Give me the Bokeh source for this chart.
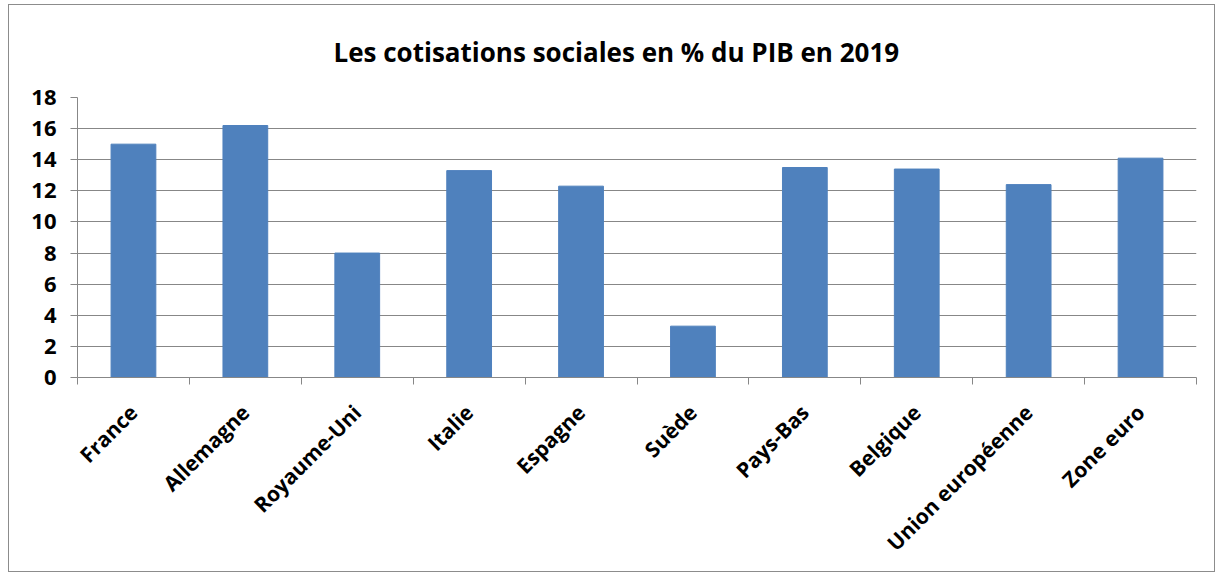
from bokeh.plotting import figure
from bokeh.models import FixedTicker, Range1d, ColumnDataSource
from bokeh.embed import file_html
from bokeh.resources import INLINE
import math

categories = ["France", "Allemagne", "Royaume-Uni", "Italie", "Espagne", "Suède",
              "Pays-Bas", "Belgique", "Union européenne", "Zone euro"]
values = [15.0, 16.2, 8.0, 13.3, 12.3, 3.3, 13.5, 13.4, 12.4, 14.1]
y_ticks = [0, 2, 4, 6, 8, 10, 12, 14, 16, 18]
title_text = "Les cotisations sociales en % du PIB en 2019"

n = len(categories)
centers = [i + 0.5 for i in range(n)]
bounds = [float(i) for i in range(n + 1)]

GRAY = "#878787"
FONT = "Open Sans"

p = figure(width=1207, height=568, output_backend="svg", toolbar_location=None,
           x_range=Range1d(0, n), y_range=Range1d(0, 18),
           min_border_left=68, min_border_right=20, min_border_top=92, min_border_bottom=196,
           title=title_text)
p.styles = {"border": "1px solid #8c8c8c", "margin-left": "8px", "margin-top": "4px"}

p.title.text_font = FONT
p.title.text_font_size = "26px"
p.title.text_font_style = "bold"
p.title.vertical_align = "top"
p.title.align = "left"
p.title.offset = 256
p.title.standoff = 52
p.title.text_color = "black"

src = ColumnDataSource(dict(x=centers, top=values, name=categories))
p.vbar(x="x", top="top", bottom=0, width=0.4, source=src,
       fill_color="#4F81BD", line_color="#4F81BD", line_width=1)

p.outline_line_color = None
p.xgrid.grid_line_color = None
p.ygrid.grid_line_color = GRAY
p.ygrid.grid_line_width = 1
p.ygrid.ticker = FixedTicker(ticks=y_ticks)

xa = p.xaxis[0]
xa.ticker = FixedTicker(ticks=centers, minor_ticks=bounds)
xa.major_label_overrides = {c: name for c, name in zip(centers, categories)}
xa.major_label_orientation = math.pi / 4
xa.major_tick_line_color = None
xa.minor_tick_in = 0
xa.minor_tick_out = 7
xa.minor_tick_line_color = GRAY
xa.axis_line_color = GRAY
xa.major_label_text_font = FONT
xa.major_label_text_font_size = "21px"
xa.major_label_text_font_style = "bold"
xa.major_label_text_color = "black"
xa.major_label_standoff = 24

ya = p.yaxis[0]
ya.ticker = FixedTicker(ticks=y_ticks)
ya.major_tick_in = 0
ya.major_tick_out = 7
ya.major_tick_line_color = GRAY
ya.minor_tick_line_color = None
ya.axis_line_color = GRAY
ya.major_label_text_font = FONT
ya.major_label_text_font_size = "22px"
ya.major_label_text_font_style = "bold"
ya.major_label_text_color = "black"
ya.major_label_standoff = 14

open("out.html", "w").write(file_html(p, INLINE))
